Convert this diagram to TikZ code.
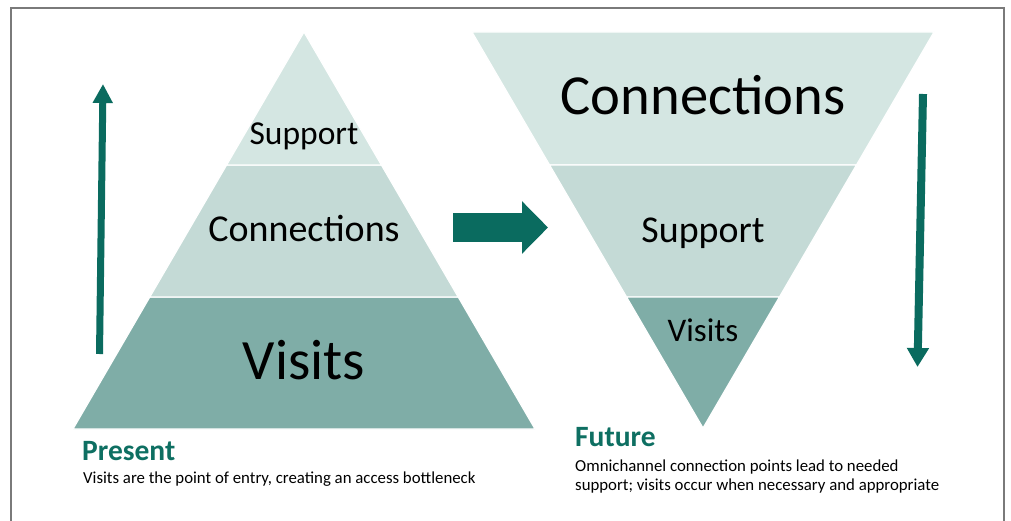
\documentclass[tikz,border=0pt]{standalone}
\usepackage{fontspec}
\setmainfont{Carlito}
\usetikzlibrary{arrows.meta,calc}

\definecolor{bandlight}{HTML}{D4E6E2}
\definecolor{bandmid}{HTML}{C4DAD6}
\definecolor{banddark}{HTML}{7FADA7}
\definecolor{teal}{HTML}{0A6B5F}
\definecolor{headteal}{HTML}{0E6F62}
\definecolor{framegray}{HTML}{7A7A7A}

\tikzset{
  band/.style={draw=white, line width=1.2pt, line join=miter},
  bandtext/.style={text=black, inner sep=0pt, anchor=base},
  heading/.style={text=headteal, inner sep=0pt, anchor=base west, font=\bfseries\fontsize{29.5}{32}\selectfont},
  caption/.style={text=black, inner sep=0pt, anchor=base west, font=\fontsize{16.8}{19}\selectfont},
  flowarrow/.style={draw=teal, line width=#1},
}

\begin{document}
\begin{tikzpicture}[x=1pt, y=-1pt]
\useasboundingbox (0,0) rectangle (1011,521);

% open frame
\draw[framegray, line width=1.3pt] (11,521) -- (11,8) -- (1004,8) -- (1004,521);

% pyramid: present state
\coordinate (PA) at (304,32);
\coordinate (PL) at (73,429);
\coordinate (PR) at (535,429);
\coordinate (PL1) at ($(PA)!0.335!(PL)$);
\coordinate (PR1) at ($(PA)!0.335!(PR)$);
\coordinate (PL2) at ($(PA)!0.6675!(PL)$);
\coordinate (PR2) at ($(PA)!0.6675!(PR)$);
\fill[banddark, band] (PL2) -- (PR2) -- (PR) -- (PL) -- cycle;
\fill[bandmid, band] (PL1) -- (PR1) -- (PR2) -- (PL2) -- cycle;
\fill[bandlight, band] (PA) -- (PR1) -- (PL1) -- cycle;

\node[bandtext, font=\fontsize{33.5}{36}\selectfont] (psup) at (304,145) {Support};
\node[bandtext, font=\fontsize{38}{40}\selectfont] (pcon) at (304,242) {Connections};
\node[bandtext, font=\fontsize{57}{60}\selectfont] (pvis) at (304,379) {Visits};

% inverted pyramid: future state
\coordinate (FA) at (703,428);
\coordinate (FL) at (472,32);
\coordinate (FR) at (934,32);
\coordinate (FL1) at ($(FL)!0.336!(FA)$);
\coordinate (FR1) at ($(FR)!0.336!(FA)$);
\coordinate (FL2) at ($(FL)!0.669!(FA)$);
\coordinate (FR2) at ($(FR)!0.669!(FA)$);
\fill[bandlight, band] (FL) -- (FR) -- (FR1) -- (FL1) -- cycle;
\fill[bandmid, band] (FL1) -- (FR1) -- (FR2) -- (FL2) -- cycle;
\fill[banddark, band] (FL2) -- (FR2) -- (FA) -- cycle;

\node[bandtext, font=\fontsize{56.6}{60}\selectfont] (fcon) at (703,115) {Connections};
\node[bandtext, font=\fontsize{37.9}{40}\selectfont] (fsup) at (703,243) {Support};
\node[bandtext, font=\fontsize{33}{36}\selectfont] (fvis) at (703,341) {Visits};

% arrows
\coordinate (upS) at (99.5,354);
\coordinate (upE) at (103,84);
\draw[flowarrow=7pt, -{Triangle[width=19pt,length=19pt]}] (upS) -- (upE);

\coordinate (dnS) at (923,94);
\coordinate (dnE) at (917.5,367);
\draw[flowarrow=8pt, -{Triangle[width=21pt,length=19pt]}] (dnS) -- (dnE);

\coordinate (rtS) at (453,227.5);
\coordinate (rtE) at (548,227.5);
\draw[flowarrow=29pt, -{Triangle[width=51pt,length=26pt]}] (rtS) -- (rtE);

% captions
\node[heading] (present) at (82,460) {Present};
\node[caption] (presenttxt) at (83,483) {Visits are the point of entry, creating an access bottleneck};

\node[heading] (future) at (575,446) {Future};
\node[caption] (futuretxt1) at (575,471.5) {Omnichannel connection points lead to needed};
\node[caption] (futuretxt2) at (575,490.5) {support; visits occur when necessary and appropriate};
\end{tikzpicture}
\end{document}
